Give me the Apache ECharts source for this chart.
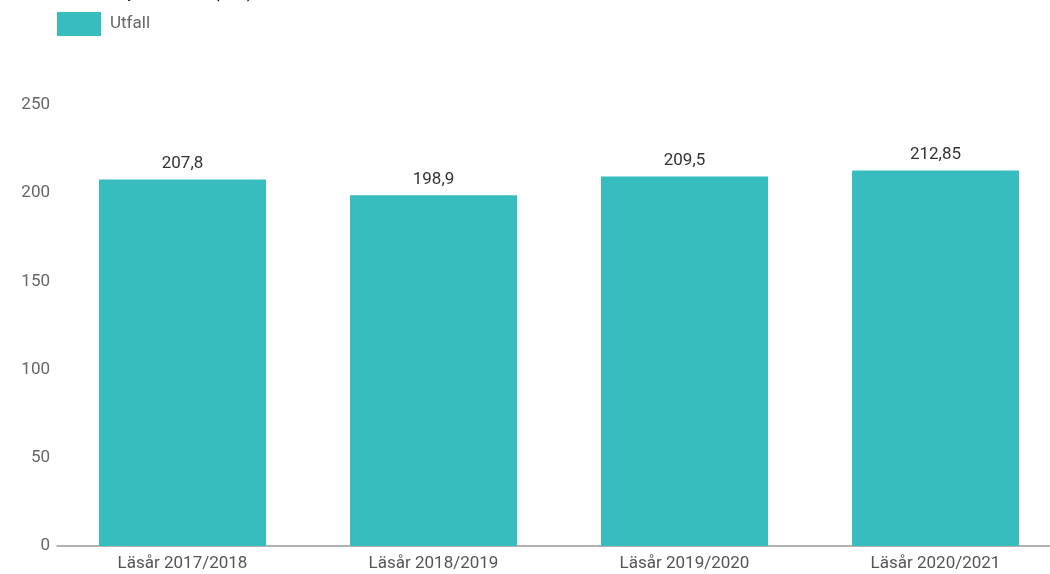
<!DOCTYPE html>
<html><head><meta charset="utf-8">
<script src="https://cdn.jsdelivr.net/npm/echarts@6/dist/echarts.min.js"></script>
<style>html,body{margin:0;padding:0;background:#fff;overflow:hidden}#c{width:1061px;height:574px}</style>
</head><body><div id="c"></div>
<script>
const categories = ['Läsår 2017/2018', 'Läsår 2018/2019', 'Läsår 2019/2020', 'Läsår 2020/2021'];
const utfall = [207.8, 198.9, 209.5, 212.85];
const yTicks = [0, 50, 100, 150, 200, 250];
const chart = echarts.init(document.getElementById('c'));
chart.setOption({
  animation: false,
  textStyle: {fontFamily: 'Roboto'},
  title: {text: 'Kostnad per elev (tkr)', left: 36, top: -21, padding: 0, textStyle: {fontSize: 23, fontWeight: 'normal', color: '#222', fontFamily: 'Roboto'}},
  legend: {left: 57, top: 12, padding: 0, itemWidth: 44, itemHeight: 24, itemGap: 10, icon: 'rect',
    textStyle: {fontSize: 17, color: '#666', fontFamily: 'Roboto', padding: [4, 0, 0, 4]}, data: ['Utfall']},
  grid: {left: 57, top: 105, width: 1004, height: 441},
  xAxis: {type: 'category', data: categories,
    axisLine: {lineStyle: {color: '#999', width: 1.5}}, axisTick: {show: false},
    axisLabel: {fontSize: 17, color: '#555', margin: 9, fontFamily: 'Roboto'}},
  yAxis: {type: 'value', min: yTicks[0], max: yTicks[yTicks.length-1], interval: 50,
    axisLine: {show: false}, axisTick: {show: false}, splitLine: {show: false},
    axisLabel: {fontSize: 17, color: '#666', margin: 7, fontFamily: 'Roboto'}},
  series: [{name: 'Utfall', type: 'bar', data: utfall, barWidth: 167, itemStyle: {color: '#37BDBD'},
    label: {show: true, position: 'top', distance: 7, fontSize: 17, color: '#333', fontFamily: 'Roboto',
      formatter: p => String(p.value).replace('.', ',')}}]
});
</script></body></html>
